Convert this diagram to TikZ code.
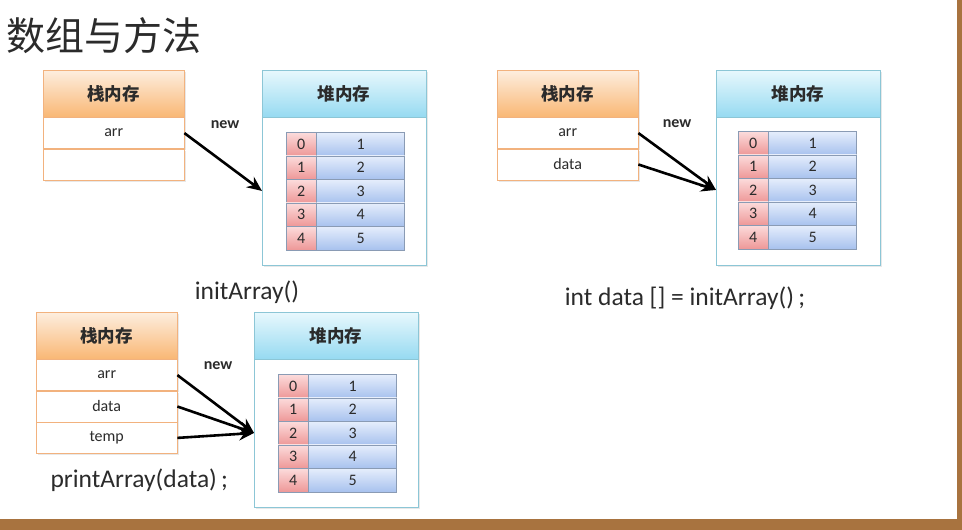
\documentclass[tikz,border=0pt]{standalone}
\usepackage{fontspec}
\setmainfont{Carlito}
\newfontfamily\cjk{Noto Sans CJK SC}
\usetikzlibrary{positioning,shadows,arrows.meta}

\definecolor{stackline}{HTML}{F2B27E}
\definecolor{stacktop}{HTML}{FDEEDF}
\definecolor{stackbot}{HTML}{F9B774}
\definecolor{heapline}{HTML}{8CC6D6}
\definecolor{heaptop}{HTML}{E8F8FD}
\definecolor{heapbot}{HTML}{96DAF1}
\definecolor{idxtop}{HTML}{FCDCDC}
\definecolor{idxbot}{HTML}{EE9898}
\definecolor{valtop}{HTML}{E6EEFC}
\definecolor{valbot}{HTML}{A8C2EE}
\definecolor{cellline}{HTML}{8A9BB4}
\definecolor{frame}{HTML}{A8733F}
\definecolor{ink}{HTML}{2B2B2B}

\tikzset{
  soft/.style={drop shadow={opacity=0.18, shadow xshift=1.5pt, shadow yshift=-1.5pt}},
  stackhead/.style={draw=stackline, soft, top color=stacktop, bottom color=stackbot,
    anchor=north west, minimum width=141pt, minimum height=47pt, inner sep=0pt,
    text=ink, font=\cjk\bfseries\fontsize{17.5}{19}\selectfont},
  stackrow/.style={draw=stackline, soft, fill=white, minimum width=141pt,
    minimum height=31pt, inner sep=0pt, text=ink, font=\fontsize{16}{18}\selectfont},
  heapbox/.style={draw=heapline, soft, fill=white, anchor=north west,
    minimum width=164pt, minimum height=195pt, inner sep=0pt},
  heaphead/.style={draw=heapline, top color=heaptop, bottom color=heapbot,
    anchor=north west, minimum width=164pt, minimum height=47pt, inner sep=0pt,
    text=ink, font=\cjk\bfseries\fontsize{17.5}{19}\selectfont},
  idxcell/.style={draw=cellline, top color=idxtop, bottom color=idxbot, anchor=north west,
    minimum width=30pt, minimum height=23.5pt, inner sep=0pt, text=ink,
    font=\fontsize{16}{18}\selectfont},
  valcell/.style={idxcell, top color=valtop, bottom color=valbot, minimum width=88pt},
  ptr/.style={-{Stealth[length=15pt, width=13pt, inset=5pt]}, line width=2.6pt},
  newtag/.style={font=\bfseries\fontsize{16}{18}\selectfont, text=ink},
  call/.style={font=\fontsize{25.5}{28}\selectfont, text=ink}
}

\begin{document}
\begin{tikzpicture}[x=1pt, y=-1pt]
  \useasboundingbox (0,0) rectangle (962,530);
  \fill[frame] (957,0) rectangle (962,530);
  \fill[frame] (0,519) rectangle (962,530);

  \node[anchor=west, font=\cjk\fontsize{39}{41}\selectfont, text=ink] (title) at (3,36) {数组与方法};

  % stack memory
  \node[stackhead] (s1) at (43,70) {栈内存};
  \node[stackrow, below=0pt of s1] (s1a) {arr};
  \node[stackrow, below=0pt of s1a] (s1b) {};

  \node[stackhead] (s2) at (497,70) {栈内存};
  \node[stackrow, below=0pt of s2] (s2a) {arr};
  \node[stackrow, below=0pt of s2a] (s2b) {data};

  \node[stackhead] (s3) at (36,312) {栈内存};
  \node[stackrow, below=0pt of s3] (s3a) {arr};
  \node[stackrow, below=0pt of s3a] (s3b) {data};
  \node[stackrow, below=0pt of s3b] (s3c) {temp};

  % heap memory
  \node[heapbox] (h1) at (262,70) {};
  \node[heaphead] (h1t) at (262,70) {堆内存};
  \node[heapbox] (h2) at (716,70) {};
  \node[heaphead] (h2t) at (716,70) {堆内存};
  \node[heapbox] (h3) at (254,312) {};
  \node[heaphead] (h3t) at (254,312) {堆内存};

  \foreach \tx/\ty/\t in {286/132/a, 738/131/b, 278/374/c} {
    \foreach \i [evaluate=\i as \v using int(\i+1)] in {0,...,4} {
      \node[idxcell] (\t\i) at (\tx,{\ty+23.5*\i}) {\i};
      \node[valcell, right=0pt of \t\i] (\t val\i) {\v};
    }
  }

  % references
  \node[newtag] (n1) at (225,125) {new};
  \node[newtag] (n2) at (677,124) {new};
  \node[newtag] (n3) at (218,366) {new};

  \draw[ptr] (s1a.east) -- (h1.west |- a2.center);
  \draw[ptr] (s2a.east) -- (h2.west |- b2.center);
  \draw[ptr] (s2b.east) -- (h2.west |- b2.center);
  \draw[ptr] (s3a.east) -- (h3.west |- c2.center);
  \draw[ptr] (s3b.east) -- (h3.west |- c2.center);
  \draw[ptr] (s3c.east) -- (h3.west |- c2.center);

  \node[call] (c1) at (247,292) {initArray()};
  \node[call] (c2) at (685,298) {int data [] = initArray()\,;};
  \node[call, anchor=west] (c3) at (47,480) {printArray(data)\,;};
\end{tikzpicture}
\end{document}
